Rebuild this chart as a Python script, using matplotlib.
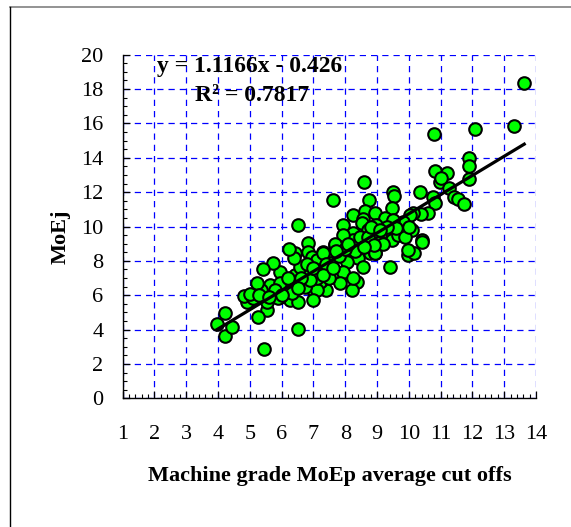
import matplotlib
matplotlib.use("Agg")
import matplotlib.pyplot as plt
from matplotlib.lines import Line2D
from matplotlib.ticker import MultipleLocator
import numpy as np

# ---- data ----
moep = [13.63, 13.31, 12.09, 10.80, 11.90, 11.90, 11.89, 10.83, 11.21, 10.98,
        11.02, 11.26, 11.42, 11.55, 11.73, 10.77, 10.82, 10.61, 10.35, 10.37,
        8.60, 8.76, 9.49, 9.53, 9.48, 7.62, 8.23, 8.62, 8.93, 8.57,
        9.25, 7.94, 6.50, 8.97, 9.91, 10.14, 9.88, 10.09, 10.40, 10.04,
        9.82, 9.51, 8.52, 8.72, 9.20, 9.46, 9.30, 9.09, 9.09, 9.46,
        9.67, 9.88, 8.25, 8.46, 8.20, 7.89, 7.68, 7.31, 6.84, 6.84,
        6.94, 6.42, 7.10, 7.57, 8.04, 8.41, 8.78, 8.93, 9.05, 9.41,
        9.98, 10.16, 9.98, 10.40, 8.25, 8.46, 7.94, 7.68, 8.93, 8.57,
        8.36, 8.20, 7.94, 7.73, 8.04, 7.52, 7.31, 7.62, 7.94, 8.25,
        7.41, 7.83, 7.20, 7.26, 6.73, 6.42, 6.68, 6.99, 7.20, 7.10,
        6.99, 6.68, 6.58, 6.40, 6.24, 6.16, 6.37, 6.26, 6.52, 5.95,
        5.69, 5.63, 5.95, 5.74, 5.40, 5.35, 5.21, 5.53, 5.24, 4.90,
        4.82, 5.11, 5.53, 5.89, 6.10, 5.95, 6.42, 6.73, 6.31, 3.96,
        4.21, 4.21, 4.43, 5.45, 6.50,
        7.40, 7.80, 8.30, 8.70, 9.20, 8.00, 7.50, 8.90, 7.10, 6.90,
        6.60, 9.60, 10.00, 9.30,
        5.00, 5.30, 5.80, 6.00, 6.20, 6.50, 5.60, 6.80, 7.00, 7.70,
        8.10, 8.60, 8.80, 9.10, 7.30, 7.60]
moej = [18.33, 15.87, 15.66, 15.38, 13.97, 13.54, 12.75, 13.23, 13.10, 12.61,
        12.80, 12.22, 11.73, 11.58, 11.29, 11.73, 11.35, 10.80, 11.99, 10.73,
        12.61, 11.54, 12.03, 11.79, 11.06, 11.54, 10.67, 10.92, 10.80, 10.42,
        10.48, 10.09, 10.09, 10.09, 10.22, 10.77, 9.80, 9.80, 9.21, 10.67,
        10.28, 10.38, 10.19, 9.80, 9.51, 9.80, 9.70, 9.51, 9.12, 9.21,
        9.51, 9.41, 9.60, 9.21, 8.92, 9.02, 8.92, 8.53, 9.02, 8.53,
        8.24, 8.44, 8.05, 8.24, 8.05, 8.15, 8.44, 8.44, 9.06, 7.66,
        8.34, 8.47, 8.63, 9.08, 9.21, 9.41, 9.51, 8.98, 8.47, 7.66,
        6.79, 6.30, 7.28, 6.98, 7.95, 7.86, 8.47, 7.28, 7.37, 6.98,
        6.30, 6.69, 7.47, 6.89, 7.47, 7.18, 6.60, 6.30, 6.79, 6.30,
        5.72, 6.69, 7.66, 8.15, 8.67, 6.50, 6.30, 5.72, 5.62, 5.91,
        6.11, 6.60, 7.37, 7.89, 7.53, 6.30, 6.69, 5.14, 4.71, 5.62,
        5.95, 5.82, 5.62, 5.82, 6.40, 6.69, 6.79, 6.50, 6.11, 4.32,
        4.98, 3.63, 4.17, 2.87, 4.02,
        7.80, 8.30, 8.60, 9.40, 9.00, 8.70, 7.00, 8.90, 7.00, 6.90,
        7.00, 9.90, 10.00, 10.00,
        6.10, 6.00, 6.30, 6.00, 7.00, 6.40, 5.90, 7.80, 7.60, 8.60,
        9.00, 8.80, 10.00, 9.80, 7.20, 7.60]
slope = 1.1166
intercept = -0.426
r2 = 0.7817
x_ticks = list(range(1, 15))
y_ticks = list(range(0, 21, 2))

serif = ["Liberation Serif", "DejaVu Serif"]
plt.rcParams["font.family"] = serif

fig = plt.figure(figsize=(5.71, 5.27), dpi=100)
ax = fig.add_axes([0.2149, 0.2442, 0.7238, 0.652])

ax.set_xlim(1, 14)
ax.set_ylim(0, 20)
ax.set_xticks(x_ticks)
ax.set_yticks(y_ticks)
ax.xaxis.set_minor_locator(MultipleLocator(0.2))
ax.yaxis.set_minor_locator(MultipleLocator(0.5))

ax.grid(True, which="major", color="#0000ff", linestyle=(0, (5, 4)), linewidth=0.9, zorder=0)
ax.set_axisbelow(True)
for s in ["top", "right"]:
    ax.spines[s].set_visible(False)
for s in ["left", "bottom"]:
    ax.spines[s].set_linewidth(1.0)
    ax.spines[s].set_color("black")

ax.tick_params(axis="both", which="major", direction="in", length=5, width=0.9,
               labelsize=16, colors="black")
ax.tick_params(axis="both", which="minor", direction="in", length=3, width=0.8)
ax.tick_params(axis="x", which="major", pad=19)
ax.tick_params(axis="y", which="major", pad=14)

ax.scatter(moep, moej, s=82, c="#00ff00", edgecolors="black", linewidths=1.5, zorder=3, clip_on=False)

xl = np.array([min(moep), max(moep)])
ax.plot(xl, slope * xl + intercept, color="black", linewidth=2.3, zorder=4)

ax.text(5.0, 19.3, f"y = {slope}x - {abs(intercept)}", ha="center", va="center",
        fontsize=17, fontweight="bold", zorder=5)
ax.text(5.06, 17.65, f"R² = {r2}", ha="center", va="center",
        fontsize=17, fontweight="bold", zorder=5)

ax.set_xlabel("Machine grade MoEp average cut offs", fontsize=16, fontweight="bold")
ax.set_ylabel("MoEj", fontsize=16, fontweight="bold")
ax.xaxis.set_label_coords(0.5, -0.196)
ax.yaxis.set_label_coords(-0.126, 0.47)

# figure frame (top and left edges visible)
W, H = 571.0, 527.0
fig.add_artist(Line2D([10 / W, 1.0], [1 - 7 / H, 1 - 7 / H], transform=fig.transFigure,
                      color="#808080", linewidth=1.2))
fig.add_artist(Line2D([10 / W, 10 / W], [0.0, 1 - 7 / H], transform=fig.transFigure,
                      color="black", linewidth=1.0))

fig.savefig("out.png", dpi=100)
